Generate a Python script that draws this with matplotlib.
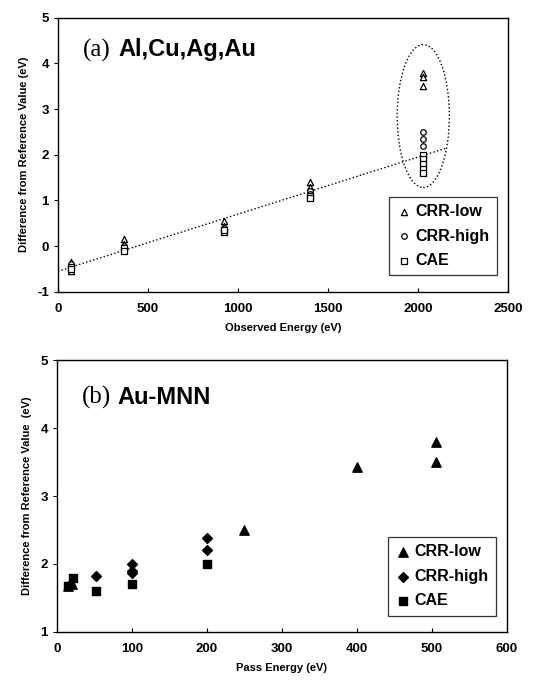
import matplotlib
matplotlib.use("Agg")
import matplotlib.pyplot as plt
from matplotlib.patches import Ellipse

# panel (a) data: observed energy vs difference from reference value
a_low_x = [70, 70, 70, 365, 365, 920, 920, 1400, 1400, 1400, 2030, 2030, 2030]
a_low_y = [-0.55, -0.45, -0.35, 0.15, 0.05, 0.55, 0.45, 1.4, 1.3, 1.2, 3.8, 3.7, 3.5]
a_high_x = [70, 70, 365, 365, 920, 920, 1400, 1400, 2030, 2030, 2030, 2030]
a_high_y = [-0.4, -0.45, 0.0, -0.05, 0.4, 0.35, 1.2, 1.15, 2.5, 2.35, 2.2, 2.0]
a_cae_x = [70, 70, 365, 365, 920, 920, 1400, 1400, 2030, 2030, 2030, 2030, 2030]
a_cae_y = [-0.45, -0.5, -0.05, -0.1, 0.3, 0.35, 1.1, 1.05, 2.0, 1.9, 1.8, 1.7, 1.6]
trend_x = [0, 2160]
trend_y = [-0.55, 2.15]

# panel (b) data: pass energy
b_low_x = [15, 20, 250, 400, 505, 505]
b_low_y = [1.68, 1.7, 2.5, 3.43, 3.8, 3.5]
b_high_x = [52, 100, 100, 100, 200, 200]
b_high_y = [1.83, 2.0, 1.9, 1.87, 2.38, 2.2]
b_cae_x = [15, 22, 52, 100, 200]
b_cae_y = [1.68, 1.8, 1.6, 1.7, 2.0]

plt.rcParams['font.family'] = ['Liberation Sans', 'DejaVu Sans']
plt.rcParams['font.weight'] = 'bold'
plt.rcParams['axes.unicode_minus'] = False

fig = plt.figure(figsize=(5.42, 6.85), dpi=100)
ax1 = fig.add_axes([0.107, 0.574, 0.830, 0.400])
ax2 = fig.add_axes([0.105, 0.0774, 0.830, 0.397])


def style(ax):
    ax.tick_params(axis='y', direction='out', length=3, labelsize=9.5, width=0.8)
    ax.tick_params(axis='x', direction='in', length=3, labelsize=9.5, width=0.8, pad=8)
    for s in ax.spines.values():
        s.set_linewidth(1.0)
    for lab in ax.get_xticklabels() + ax.get_yticklabels():
        lab.set_fontweight('bold')


def make_legend(ax):
    leg = ax.legend(loc='lower right', bbox_to_anchor=(0.975, 0.06), fontsize=11.5, frameon=True, fancybox=False,
                    edgecolor='black', handletextpad=0.2, borderpad=0.45, labelspacing=0.6, handlelength=1.0,
                    borderaxespad=0)
    leg.get_frame().set_linewidth(0.9)
    for t in leg.get_texts():
        t.set_fontweight('bold')


# top panel
ax1.plot(trend_x, trend_y, ':', color='black', lw=1.0)
ax1.add_patch(Ellipse((2030, 2.85), 290, 3.13, fill=False, ls=':', lw=1.0, ec='black'))
ax1.scatter(a_low_x, a_low_y, marker='^', s=20, facecolors='white', edgecolors='black', lw=0.9, label='CRR-low', zorder=3)
ax1.scatter(a_high_x, a_high_y, marker='o', s=16, facecolors='white', edgecolors='black', lw=0.9, label='CRR-high', zorder=3)
ax1.scatter(a_cae_x, a_cae_y, marker='s', s=18, facecolors='white', edgecolors='black', lw=0.9, label='CAE', zorder=3)
ax1.set_xlim(0, 2500)
ax1.set_ylim(-1, 5)
ax1.set_xticks([0, 500, 1000, 1500, 2000, 2500])
ax1.set_yticks(range(-1, 6))
ax1.set_xlabel('Observed Energy (eV)', fontsize=8, fontweight='bold', labelpad=6)
ax1.set_ylabel('Difference from Reference Value (eV)', fontsize=8, fontweight='bold', labelpad=6)
ax1.text(0.055, 0.86, '(a)', transform=ax1.transAxes, fontsize=18, family='Liberation Serif', fontweight='normal')
ax1.text(0.135, 0.86, 'Al,Cu,Ag,Au', transform=ax1.transAxes, fontsize=17, fontweight='bold')
make_legend(ax1)
style(ax1)

# bottom panel
ax2.scatter(b_low_x, b_low_y, marker='^', s=45, color='black', label='CRR-low', zorder=3)
ax2.scatter(b_high_x, b_high_y, marker='D', s=25, color='black', label='CRR-high', zorder=3)
ax2.scatter(b_cae_x, b_cae_y, marker='s', s=40, color='black', label='CAE', zorder=3)
ax2.set_xlim(0, 600)
ax2.set_ylim(1, 5)
ax2.set_xticks(range(0, 601, 100))
ax2.set_yticks(range(1, 6))
ax2.set_xlabel('Pass Energy (eV)', fontsize=8, fontweight='bold', labelpad=6)
ax2.set_ylabel('Difference from Reference Value  (eV)', fontsize=8, fontweight='bold', labelpad=6)
ax2.text(0.055, 0.84, '(b)', transform=ax2.transAxes, fontsize=18, family='Liberation Serif', fontweight='normal')
ax2.text(0.135, 0.84, 'Au-MNN', transform=ax2.transAxes, fontsize=17, fontweight='bold')
make_legend(ax2)
style(ax2)

fig.savefig('out.png', dpi=100)
